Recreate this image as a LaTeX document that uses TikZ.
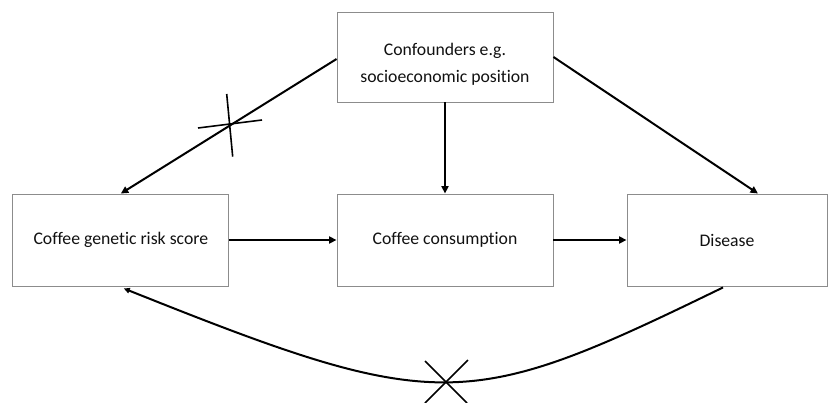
\documentclass[tikz,border=0pt]{standalone}
\usepackage{fontspec}
\setmainfont{Carlito}[Ligatures=NoCommon]
\usetikzlibrary{arrows.meta,calc}
\definecolor{boxgray}{HTML}{8C8C8C}
\definecolor{txt}{HTML}{111111}
\tikzset{
  box/.style={draw=boxgray,line width=0.9pt,fill=white,inner sep=0pt,
    text=txt,font=\fontsize{17.7}{27}\selectfont,align=center},
  conn/.style={line width=2pt,-{Triangle[length=7.5pt,width=7pt]}},
  crossline/.style={line width=1.6pt}
}
\begin{document}
\begin{tikzpicture}[x=1pt,y=-1pt]
\useasboundingbox (0,0) rectangle (830,402);
\node[box,align=none,minimum width=216pt,minimum height=90pt] (conf) at (445,57) {\raisebox{-7pt}[\height][\depth]{\begin{tabular}{@{}c@{}}Confounders e.g.\\socioeconomic position\end{tabular}}};
\node[box,minimum width=216pt,minimum height=92pt] (gen) at (120.8,240) {Coffee genetic risk score};
\node[box,minimum width=216pt,minimum height=92pt] (cons) at (445,240) {Coffee consumption};
\node[box,minimum width=200pt,minimum height=92pt] (dis) at (727,240) {Disease};
\coordinate (disN) at ($(dis.north)+(31,0)$);
\coordinate (genS) at ($(gen.south)+(3,2)$);
\coordinate (disS) at ($(dis.south)+(-4,1)$);
\coordinate (c3) at (425,361);
\coordinate (c4) at (467,403);
\coordinate (c5) at (468,360);
\coordinate (c6) at (425,403);
\draw[conn] ($(conf.west)+(0,2)$) -- (gen.north);
\draw[conn] (conf.south) -- (cons.north);
\draw[conn] (conf.east) -- (disN);
\draw[conn] (gen.east) -- (cons.west);
\draw[conn] (cons.east) -- (dis.west);
\draw[line width=2pt,-{Triangle[length=6pt,width=5.5pt]}] (disS) .. controls (467,412) and (440,415) .. (genS);
\coordinate (x1a) at (226.7,94);
\coordinate (x1b) at (232.7,156.7);
\coordinate (x2a) at (198,128);
\coordinate (x2b) at (262,120);
\draw[crossline] (x1a) -- (x1b);
\draw[crossline] (x2a) -- (x2b);
\draw[crossline] (c3) -- (c4);
\draw[crossline] (c5) -- (c6);
\end{tikzpicture}
\end{document}
